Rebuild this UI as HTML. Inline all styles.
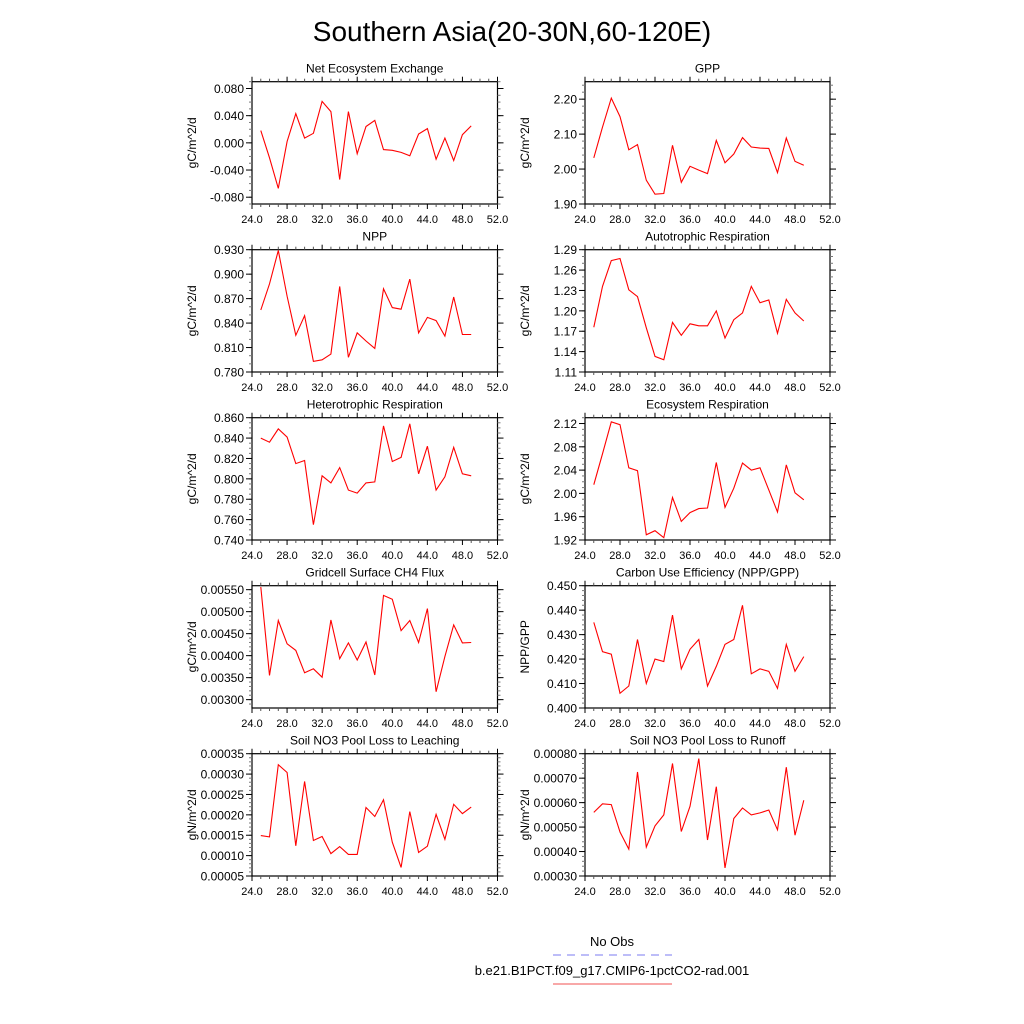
<!DOCTYPE html>
<html><head><meta charset="utf-8"><style>
html,body{margin:0;padding:0;background:#fff}
svg{display:block;font-family:"Liberation Sans",sans-serif}
</style></head><body>
<svg id="fig" width="1024" height="1024" viewBox="0 0 1024 1024" xmlns="http://www.w3.org/2000/svg">
<text x="512" y="41" font-size="28" text-anchor="middle">Southern Asia(20-30N,60-120E)</text>
<g id="panels"></g>
<g>
<text x="612" y="946" font-size="13" text-anchor="middle">No Obs</text>
<line x1="553" y1="955" x2="672" y2="955" stroke="#7b7bf0" stroke-width="1" stroke-dasharray="8,6"/>
<text x="612" y="975" font-size="13" text-anchor="middle">b.e21.B1PCT.f09_g17.CMIP6-1pctCO2-rad.001</text>
<line x1="553" y1="984" x2="672" y2="984" stroke="#f05050" stroke-width="1"/>
</g>
</svg>
<script>
const years = [25,26,27,28,29,30,31,32,33,34,35,36,37,38,39,40,41,42,43,44,45,46,47,48,49];
const xTicks = [24,28,32,36,40,44,48,52];
const xTickLabels = ["24.0","28.0","32.0","36.0","40.0","44.0","48.0","52.0"];
const neeVals = [0.018,-0.022,-0.067,0.002,0.043,0.007,0.014,0.061,0.046,-0.054,0.046,-0.016,0.024,0.033,-0.010,-0.011,-0.014,-0.019,0.013,0.021,-0.024,0.007,-0.026,0.012,0.025];
const gppVals = [2.032,2.12,2.203,2.15,2.055,2.07,1.968,1.928,1.930,2.068,1.962,2.008,1.997,1.987,2.082,2.018,2.043,2.090,2.063,2.060,2.059,1.990,2.089,2.022,2.011];
const nppVals = [0.856,0.888,0.929,0.873,0.825,0.849,0.793,0.795,0.802,0.885,0.798,0.828,0.818,0.809,0.882,0.859,0.857,0.894,0.828,0.847,0.843,0.824,0.872,0.826,0.826];
const arVals = [1.176,1.236,1.274,1.277,1.231,1.221,1.175,1.133,1.128,1.183,1.164,1.181,1.178,1.178,1.200,1.160,1.187,1.197,1.236,1.212,1.216,1.167,1.217,1.197,1.185];
const hrVals = [0.840,0.836,0.849,0.841,0.815,0.818,0.755,0.803,0.796,0.811,0.789,0.786,0.796,0.797,0.852,0.817,0.821,0.854,0.805,0.832,0.789,0.802,0.831,0.805,0.803];
const erVals = [2.015,2.068,2.123,2.118,2.044,2.039,1.929,1.936,1.924,1.993,1.952,1.967,1.974,1.975,2.053,1.976,2.009,2.052,2.040,2.044,2.006,1.968,2.049,2.001,1.989];
const ch4Vals = [0.00556,0.00355,0.00480,0.00427,0.00412,0.00361,0.00370,0.00351,0.00481,0.00393,0.00429,0.00390,0.00431,0.00356,0.00537,0.00528,0.00457,0.00480,0.00430,0.00507,0.00318,0.00398,0.00470,0.00429,0.00430];
const cueVals = [0.435,0.423,0.422,0.406,0.409,0.428,0.410,0.420,0.419,0.438,0.416,0.424,0.428,0.409,0.417,0.426,0.428,0.442,0.414,0.416,0.415,0.408,0.426,0.415,0.421];
const leachVals = [0.000149,0.000146,0.000323,0.000304,0.000124,0.000282,0.000137,0.000147,0.000105,0.000122,0.000103,0.000103,0.000218,0.000196,0.000237,0.000133,0.000071,0.000208,0.000108,0.000123,0.000201,0.000140,0.000226,0.000203,0.000219];
const runoffVals = [0.00056,0.000595,0.000592,0.00048,0.00041,0.000725,0.000418,0.000505,0.00055,0.00076,0.000482,0.000585,0.00078,0.000447,0.000665,0.000333,0.000535,0.000578,0.00055,0.000558,0.00057,0.000489,0.000745,0.000467,0.00061];
const neeTicks = [-0.08,-0.04,0,0.04,0.08];
const gppTicks = [1.9,2.0,2.1,2.2];
const nppTicks = [0.78,0.81,0.84,0.87,0.90,0.93];
const arTicks = [1.11,1.14,1.17,1.20,1.23,1.26,1.29];
const hrTicks = [0.74,0.76,0.78,0.80,0.82,0.84,0.86];
const erTicks = [1.92,1.96,2.00,2.04,2.08,2.12];
const ch4Ticks = [0.003,0.0035,0.004,0.0045,0.005,0.0055];
const cueTicks = [0.40,0.41,0.42,0.43,0.44,0.45];
const leachTicks = [0.00005,0.0001,0.00015,0.0002,0.00025,0.0003,0.00035];
const runoffTicks = [0.0003,0.0004,0.0005,0.0006,0.0007,0.0008];

const panels = [
 {name:"nee",title:"Net Ecosystem Exchange",unit:"gC/m^2/d",vals:neeVals,ticks:neeTicks,min:-0.09,max:0.09,dec:3,minor:4,col:0,row:0},
 {name:"gpp",title:"GPP",unit:"gC/m^2/d",vals:gppVals,ticks:gppTicks,min:1.90,max:2.25,dec:2,minor:5,col:1,row:0},
 {name:"npp",title:"NPP",unit:"gC/m^2/d",vals:nppVals,ticks:nppTicks,min:0.78,max:0.93,dec:3,minor:3,col:0,row:1},
 {name:"ar",title:"Autotrophic Respiration",unit:"gC/m^2/d",vals:arVals,ticks:arTicks,min:1.11,max:1.29,dec:2,minor:3,col:1,row:1},
 {name:"hr",title:"Heterotrophic Respiration",unit:"gC/m^2/d",vals:hrVals,ticks:hrTicks,min:0.74,max:0.86,dec:3,minor:4,col:0,row:2},
 {name:"er",title:"Ecosystem Respiration",unit:"gC/m^2/d",vals:erVals,ticks:erTicks,min:1.92,max:2.13,dec:2,minor:4,col:1,row:2},
 {name:"ch4",title:"Gridcell Surface CH4 Flux",unit:"gC/m^2/d",vals:ch4Vals,ticks:ch4Ticks,min:0.00281,max:0.00559,dec:5,minor:5,col:0,row:3},
 {name:"cue",title:"Carbon Use Efficiency (NPP/GPP)",unit:"NPP/GPP",vals:cueVals,ticks:cueTicks,min:0.40,max:0.45,dec:3,minor:5,col:1,row:3},
 {name:"leach",title:"Soil NO3 Pool Loss to Leaching",unit:"gN/m^2/d",vals:leachVals,ticks:leachTicks,min:0.00005,max:0.00035,dec:5,minor:5,col:0,row:4},
 {name:"runoff",title:"Soil NO3 Pool Loss to Runoff",unit:"gN/m^2/d",vals:runoffVals,ticks:runoffTicks,min:0.0003,max:0.0008,dec:5,minor:5,col:1,row:4}
];
const NS="http://www.w3.org/2000/svg";
const root=document.getElementById('panels');
function mk(tag,attrs,parent,txt){const e=document.createElementNS(NS,tag);for(const k in attrs)e.setAttribute(k,attrs[k]);if(txt!==undefined)e.textContent=txt;parent.appendChild(e);return e;}
panels.forEach(p=>{
 const L=p.col===0?252:585, R=p.col===0?497.5:830, T=81.7+p.row*168, B=T+122.3;
 const g=document.createElementNS(NS,'g');
 
 
 root.appendChild(g);
 const sx=v=>L+(v-24)/(52-24)*(R-L);
 const sy=v=>B-(v-p.min)/(p.max-p.min)*(B-T);
 const frame=mk('rect',{x:L,y:T,width:R-L,height:B-T,fill:'none',stroke:'#000','stroke-width':1.2},g);
 
 
 const tt=mk('text',{x:(L+R)/2,y:T-9,'font-size':12,'text-anchor':'middle'},g,p.title);
 
 
 const yt=mk('text',{x:0,y:0,'font-size':12,'text-anchor':'middle',transform:`translate(${L-56},${(T+B)/2}) rotate(-90)`},g,p.unit);
 
 
 // x ticks
 xTicks.forEach((t,i)=>{
  const x=sx(t);
  mk('line',{x1:x,y1:B,x2:x,y2:B+5,stroke:'#000'},g);
  mk('line',{x1:x,y1:T,x2:x,y2:T-5,stroke:'#000'},g);
  const lb=mk('text',{x:x,y:B+19,'font-size':11,'text-anchor':'middle'},g,xTickLabels[i]);
  
  
 });
 for(let v=25;v<52;v++){ if(v%4===0) continue; const x=sx(v);
  mk('line',{x1:x,y1:B,x2:x,y2:B+3,stroke:'#555'},g);
  mk('line',{x1:x,y1:T,x2:x,y2:T-3,stroke:'#555'},g);}
 // y ticks
 const step=p.ticks[1]-p.ticks[0];
 const ms=step/p.minor;
 for(let v=p.ticks[0]-step;v<=p.max+1e-12;v+=ms){ if(v<p.min-1e-12) continue; const y=sy(v);
  mk('line',{x1:L,y1:y,x2:L-3,y2:y,stroke:'#777'},g);
  mk('line',{x1:R,y1:y,x2:R+3,y2:y,stroke:'#777'},g);}
 p.ticks.forEach(t=>{
  const y=sy(t);
  mk('line',{x1:L,y1:y,x2:L-6,y2:y,stroke:'#000'},g);
  mk('line',{x1:R,y1:y,x2:R+6,y2:y,stroke:'#000'},g);
  const lb=mk('text',{x:L-8,y:y+4.5,'font-size':12,'text-anchor':'end'},g,t.toFixed(p.dec));
  
  
 });
 const pts=p.vals.map((v,i)=>sx(years[i]).toFixed(1)+','+sy(v).toFixed(1)).join(' ');
 const ln=mk('polyline',{points:pts,fill:'none',stroke:'#ff0000','stroke-width':1.1},g);
 
 
});
</script>
</body></html>
